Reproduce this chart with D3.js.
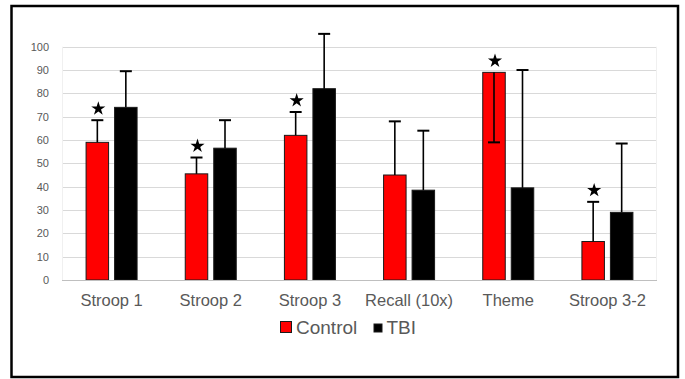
<!DOCTYPE html>
<html>
<head>
<meta charset="utf-8">
<script src="https://cdn.jsdelivr.net/npm/d3@7"></script>
<style>
  html, body { margin: 0; padding: 0; background: #fff; }
  svg { display: block; font-family: "Liberation Sans", Arial, sans-serif; }
</style>
</head>
<body>
<svg id="chart" width="685" height="379"></svg>
<script>
const categories = ["Stroop 1", "Stroop 2", "Stroop 3", "Recall (10x)", "Theme", "Stroop 3-2"];
const seriesNames = ["Control", "TBI"];
const controlValues = [59, 45.5, 62, 45, 89, 16.5];
const controlErrEnd = [68.5, 52.5, 72, 68, 59, 33.5];
const tbiValues = [74, 56.5, 82, 38.5, 39.5, 29];
const tbiErrEnd = [89.5, 68.5, 105.5, 64, 90, 58.5];
const significant = [true, true, true, false, true, true];
const yTicks = [0, 10, 20, 30, 40, 50, 60, 70, 80, 90, 100];
const colors = ["#ff0000", "#000000"];

const svg = d3.select("#chart");
const W = 685, H = 379;

// outer border
svg.append("rect")
  .attr("x", 11.5).attr("y", 6).attr("width", 666.5).attr("height", 371)
  .attr("fill", "#fff").attr("stroke", "#000").attr("stroke-width", 2.5);

const plot = { left: 62, right: 657, top: 46.7, bottom: 280 };

const x = d3.scaleBand().domain(categories).range([plot.left, plot.right]);
const y = d3.scaleLinear().domain([0, 100]).range([plot.bottom, plot.top]);

const barW = 22.5, gap = 6;
const sub = d3.scaleOrdinal().domain(seriesNames).range([-(gap / 2 + barW / 2), gap / 2 + barW / 2]);

// gridlines
const grid = svg.append("g");
grid.selectAll("line").data(yTicks.filter(t => t > 0)).join("line")
  .attr("x1", plot.left).attr("x2", plot.right)
  .attr("y1", d => Math.round(y(d)) + 0.5).attr("y2", d => Math.round(y(d)) + 0.5)
  .attr("stroke", "#d9d9d9").attr("stroke-width", 1);
// faint plot area sides
grid.append("line").attr("x1", plot.left + 0.5).attr("x2", plot.left + 0.5)
  .attr("y1", y(100)).attr("y2", y(0)).attr("stroke", "#f0f0f0");
grid.append("line").attr("x1", plot.right - 0.5).attr("x2", plot.right - 0.5)
  .attr("y1", y(100)).attr("y2", y(0)).attr("stroke", "#f0f0f0");

// y axis labels
const yAxis = d3.axisLeft(y).tickValues(yTicks).tickSize(0).tickPadding(0);
const yg = svg.append("g").attr("transform", `translate(49,0)`).call(yAxis);
yg.select(".domain").remove();
yg.selectAll("text").attr("fill", "#595959").attr("font-size", "11px")
  .attr("font-family", "\"Liberation Sans\", Arial, sans-serif");

// data rows
const rows = categories.map((c, i) => ({
  cat: c,
  series: [
    { name: "Control", value: controlValues[i], err: controlErrEnd[i], color: colors[0] },
    { name: "TBI", value: tbiValues[i], err: tbiErrEnd[i], color: colors[1] }
  ],
  sig: significant[i]
}));

const cx = d => x(d.cat) + x.bandwidth() / 2;

const groups = svg.append("g").selectAll("g").data(rows).join("g");

// bars
groups.selectAll("rect").data(d => d.series.map(s => ({ ...s, cat: d.cat }))).join("rect")
  .attr("x", s => x(s.cat) + x.bandwidth() / 2 + sub(s.name) - barW / 2)
  .attr("y", s => y(s.value))
  .attr("width", barW)
  .attr("height", s => y(0) - y(s.value))
  .attr("fill", s => s.color)
  .attr("stroke", "#1a1a1a").attr("stroke-width", 1);

// error bars
const eb = groups.selectAll("g.err").data(d => d.series.map(s => ({ ...s, cat: d.cat }))).join("g").attr("class", "err");
eb.append("line")
  .attr("x1", s => x(s.cat) + x.bandwidth() / 2 + sub(s.name))
  .attr("x2", s => x(s.cat) + x.bandwidth() / 2 + sub(s.name))
  .attr("y1", s => y(s.value)).attr("y2", s => y(s.err))
  .attr("stroke", "#000").attr("stroke-width", 1.6);
eb.append("line")
  .attr("x1", s => x(s.cat) + x.bandwidth() / 2 + sub(s.name) - 6)
  .attr("x2", s => x(s.cat) + x.bandwidth() / 2 + sub(s.name) + 6)
  .attr("y1", s => y(s.err)).attr("y2", s => y(s.err))
  .attr("stroke", "#000").attr("stroke-width", 2);

// zero axis line
svg.append("line").attr("x1", plot.left).attr("x2", plot.right)
  .attr("y1", Math.round(y(0)) + 0.5).attr("y2", Math.round(y(0)) + 0.5)
  .attr("stroke", "#bfbfbf").attr("stroke-width", 1.2);

// significance stars
groups.filter(d => d.sig).append("path")
  .attr("d", d3.symbol(d3.symbolStar).size(62))
  .attr("transform", d => {
    const s = d.series[0];
    const top = Math.min(y(s.value), y(s.err));
    return `translate(${cx(d) + sub("Control") + 1},${top - 11.5})`;
  })
  .attr("fill", "#000");

// x axis labels
const xAxis = d3.axisBottom(x).tickSize(0).tickPadding(0);
const xg = svg.append("g").attr("transform", `translate(0,${y(0)})`).call(xAxis);
xg.select(".domain").remove();
xg.selectAll("text").attr("fill", "#595959").attr("font-size", "16.5px")
  .attr("font-family", "\"Liberation Sans\", Arial, sans-serif")
  .attr("dy", null).attr("y", 25.5);

// legend
const legend = svg.append("g");
const legItems = [
  { name: seriesNames[0], color: colors[0], sx: 280.5, sy: 321.5, size: 11, tx: 296 },
  { name: seriesNames[1], color: colors[1], sx: 374, sy: 324, size: 8, tx: 386.5 }
];
legend.selectAll("rect").data(legItems).join("rect")
  .attr("x", d => d.sx).attr("y", d => d.sy).attr("width", d => d.size).attr("height", d => d.size)
  .attr("fill", d => d.color).attr("stroke", "#1a1a1a").attr("stroke-width", 1);
legend.selectAll("text").data(legItems).join("text")
  .attr("x", d => d.tx).attr("y", 333.5)
  .attr("fill", "#595959").attr("font-size", "19px")
  .text(d => d.name);
</script>
</body>
</html>
